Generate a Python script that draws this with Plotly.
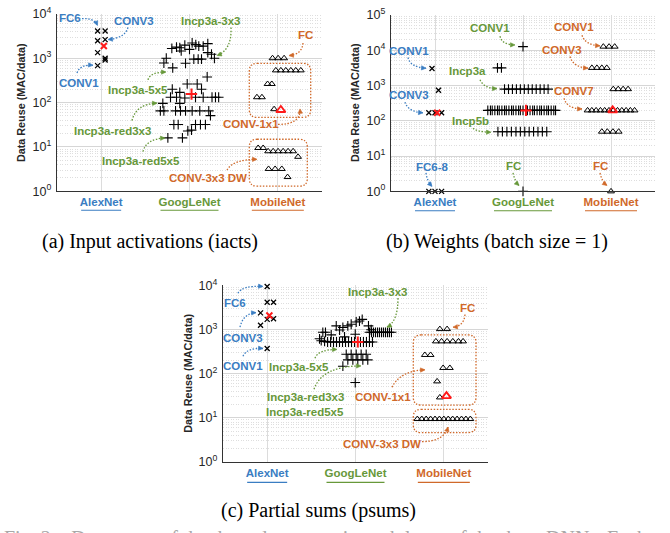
import math
import plotly.graph_objects as go

W, H = 670, 533
BLUE = "#3a7dc2"
GREEN = "#67983a"
ORANGE = "#d0692a"
SANS = "Liberation Sans, Arial, Helvetica, sans-serif"
SERIF = "Liberation Serif, Times New Roman, serif"

categories = ["AlexNet", "GoogLeNet", "MobileNet"]
cat_colors = [BLUE, GREEN, ORANGE]

# ---------------- (a) Input activations ----------------
alex_a_jit = [-0.04, -0.04, -0.04, -0.04, 0.045, 0.045, 0.045, 0.045]
alex_a_val = [4100, 2470, 1340, 680, 4100, 2620, 1000, 910]
alex_a_avg = ([0.03], [1880])

goog_a_jit = [-0.20, -0.147, -0.11, -0.094, -0.053, 0.0, 0.03, 0.071, 0.105, 0.155, 0.207,
              0.207, 0.249, 0.282, 0.049, 0.098, 0.136, -0.263, -0.29, -0.19, -0.045, 0.20,
              -0.026, 0.087, -0.195, 0.136, -0.11, -0.215, -0.147, -0.053, 0.068, 0.155,
              0.255, 0.294, 0.33, -0.302, -0.11, -0.33, -0.29, -0.158, -0.102, -0.045, 0.03,
              0.116, 0.218, 0.237, -0.177, -0.128, 0.068, 0.124, 0.18, -0.019, 0.023, -0.245, -0.08]
goog_a_val = [1660, 1780, 1720, 1460, 1970, 1580, 2210, 2030, 1870, 1870, 2130,
              1340, 1230, 1000, 953, 953, 953, 1000, 780, 606, 768, 379,
              263, 263, 200, 200, 170, 132, 132, 127, 132, 132,
              132, 132, 132, 96, 96, 65, 65, 65, 65, 65, 65,
              65, 65, 51, 32, 32, 32, 32, 32, 23, 24, 16, 16]
goog_a_avg = ([0.023], [156])

mob_a_jit = [-0.06, 0.003, 0.071, -0.023, 0.034, 0.09, 0.147, 0.203, 0.26, -0.116, -0.068,
             -0.237, -0.18, -0.042, -0.223, -0.166, -0.11, -0.053, 0.003, 0.06, 0.116, 0.173,
             0.229, -0.105, -0.031, 0.045, 0.11]
mob_a_val = [1000, 1000, 1000, 532, 532, 532, 532, 532, 532, 263, 263,
             132, 132, 71, 9.5, 9.5, 8, 8, 8, 8, 8, 8,
             6, 3.2, 3.2, 3.2, 2.1]
mob_a_avg = ([0.034], [68])

# ---------------- (b) Weights ----------------
alex_b_jit = [-0.034, 0.04, -0.07, 0.0, 0.075, -0.07, 0.0, 0.075]
alex_b_val = [3025, 729, 169, 169, 169, 1, 1, 1]
alex_b_avg = ([0.025], [169])

goog_b_jit = [0.0, -0.29, -0.245,
              -0.21, -0.165, -0.12, -0.075, -0.03, 0.015, 0.06, 0.105, 0.15, 0.195, 0.24, 0.285,
              -0.40, -0.37, -0.35, -0.32, -0.29, -0.27, -0.24, -0.21, -0.19, -0.16, -0.13, -0.11,
              -0.08, -0.05, -0.03, 0.0, 0.03, 0.05, 0.08, 0.11, 0.13, 0.16, 0.19, 0.21, 0.24,
              0.27, 0.29, 0.32, 0.35, 0.37,
              -0.285, -0.234, -0.183, -0.132, -0.08, -0.03, 0.02, 0.07, 0.12, 0.17, 0.22, 0.27,
              0.0]
goog_b_val = [12544, 3136, 3136,
              784, 784, 784, 784, 784, 784, 784, 784, 784, 784, 784, 784,
              196, 196, 196, 196, 196, 196, 196, 196, 196, 196, 196, 196,
              196, 196, 196, 196, 196, 196, 196, 196, 196, 196, 196, 196, 196,
              196, 196, 196, 196, 196,
              49, 49, 49, 49, 49, 49, 49, 49, 49, 49, 49, 49,
              1]
goog_b_avg = ([0.034], [196])

mob_b_jit = [-0.087, -0.022, 0.042,
             -0.217, -0.16, -0.104, -0.048,
             0.026, 0.082, 0.138, 0.194,
             -0.266, -0.218, -0.169, -0.12, -0.072, -0.023, 0.026, 0.074, 0.123, 0.172, 0.22, 0.268,
             -0.104, -0.042, 0.022, 0.087,
             0.0]
mob_b_val = [12544, 12544, 12544,
             3136, 3136, 3136, 3136,
             784, 784, 784, 784,
             196, 196, 196, 196, 196, 196, 196, 196, 196, 196, 196, 196,
             49, 49, 49, 49,
             1]
mob_b_avg = ([0.019], [196])

# ---------------- (c) Partial sums ----------------
alex_c_jit = [0.0, 0.0, 0.072, -0.075, 0.0, 0.072, -0.075, 0.0]
alex_c_val = [9500, 4170, 4170, 2390, 1700, 1760, 1256, 373]
alex_c_avg = ([0.025], [2080])

goog_c_jit = [-0.37, -0.34, -0.275, -0.218, -0.18, -0.143, -0.087, -0.049, 0.008, 0.045, 0.076,
              0.147, 0.177, -0.003, -0.124, -0.407,
              -0.388, -0.35, -0.316, -0.282, -0.249, -0.215, -0.181, -0.147, -0.113, -0.079,
              -0.045, -0.011, 0.056, 0.09, 0.124, 0.158, 0.192,
              0.158, 0.181, 0.203, 0.226, 0.249, 0.271, 0.294, 0.316, 0.339, 0.362, 0.384, 0.407,
              -0.105, -0.049, 0.008, 0.064, 0.121,
              -0.087, -0.03, 0.026, 0.083, 0.139,
              -0.143, -0.003]
goog_c_val = [867, 867, 757, 1212, 975, 1118, 1212, 1321, 1484, 1561, 1700,
              1212, 990, 785, 684, 618,
              560, 540, 523, 523, 523, 523, 523, 523, 523, 523,
              523, 523, 523, 523, 523, 523, 523,
              867, 867, 867, 867, 867, 867, 867, 867, 867, 867, 867, 867,
              275, 275, 275, 275, 275,
              206, 206, 206, 206, 206,
              148, 63]
goog_c_avg = ([0.026], [523])

mob_c_jit = [-0.045, 0.037, -0.09, -0.026, 0.037, 0.102, 0.166, 0.218, -0.215, -0.15,
             -0.008, 0.068, -0.076, -0.045,
             -0.30, -0.25, -0.20, -0.15, -0.10, -0.05, 0.0, 0.05, 0.10, 0.15, 0.20, 0.25, 0.30]
mob_c_val = [1026, 1026, 540, 540, 540, 540, 540, 540, 266, 266,
             135, 135, 67, 29,
             9.4, 9.4, 9.4, 9.4, 9.4, 9.4, 9.4, 9.4, 9.4, 9.4, 9.4, 9.4, 9.4]
mob_c_avg = ([0.03], [31])

captions = ["(a) Input activations (iacts)", "(b) Weights (batch size = 1)", "(c) Partial sums (psums)"]
y_title = "Data Reuse (MAC/data)"
fig_caption = "Fig. 2:   Data reuse of the three data types in each layer of the three DNNs. Each"

# ---------------- layout geometry (pixels) ----------------
panels = [
    dict(xdom=(57, 322), ydom=(5, 188), dec=4,
         groups=[(alex_a_jit, alex_a_val), (goog_a_jit, goog_a_val), (mob_a_jit, mob_a_val)],
         avgs=[alex_a_avg, goog_a_avg, mob_a_avg], uline=207.5, ytitle=(21, 97), cap=(150, 240)),
    dict(xdom=(391, 655), ydom=(6, 188), dec=5,
         groups=[(alex_b_jit, alex_b_val), (goog_b_jit, goog_b_val), (mob_b_jit, mob_b_val)],
         avgs=[alex_b_avg, goog_b_avg, mob_b_avg], uline=208, ytitle=(355, 97), cap=(497, 240)),
    dict(xdom=(223, 488), ydom=(285, 467), dec=4,
         groups=[(alex_c_jit, alex_c_val), (goog_c_jit, goog_c_val), (mob_c_jit, mob_c_val)],
         avgs=[alex_c_avg, goog_c_avg, mob_c_avg], uline=488, ytitle=(188, 376), cap=(318, 517)),
]

STY = [dict(symbol="x-thin", size=5, lw=1.3),
       dict(symbol="cross-thin", size=7, lw=1.1),
       dict(symbol="triangle-up-open", size=6, lw=1.0)]
RED = [dict(symbol="x-thin", size=6, lw=2.0),
       dict(symbol="cross-thin", size=8, lw=2.0),
       dict(symbol="triangle-up-open", size=8, lw=1.9)]

fig = go.Figure()
shapes = []
annos = []


def pp(x, y):
    return f"{x / W:.5f},{1 - y / H:.5f}"


def curve_arrow(x0, y0, cx, cy, x1, y1, color):
    shapes.append(dict(type="path", xref="paper", yref="paper", layer="above",
                       path=f"M{pp(x0, y0)} Q{pp(cx, cy)} {pp(x1, y1)}",
                       line=dict(color=color, width=1.3, dash="1.5px,1.6px")))
    dx, dy = x1 - cx, y1 - cy
    n = math.hypot(dx, dy) or 1.0
    ux, uy = dx / n, dy / n
    L, hw = 4.5, 2.2
    bx, by = x1 - ux * L, y1 - uy * L
    p1 = (bx - uy * hw, by + ux * hw)
    p2 = (bx + uy * hw, by - ux * hw)
    shapes.append(dict(type="path", xref="paper", yref="paper", layer="above",
                       path=f"M{pp(x1, y1)} L{pp(*p1)} L{pp(*p2)} Z",
                       fillcolor=color, line=dict(color=color, width=0.6)))


def round_box(x0, y0, x1, y1, color, r=8):
    path = (f"M{pp(x0 + r, y0)} L{pp(x1 - r, y0)} Q{pp(x1, y0)} {pp(x1, y0 + r)} "
            f"L{pp(x1, y1 - r)} Q{pp(x1, y1)} {pp(x1 - r, y1)} L{pp(x0 + r, y1)} "
            f"Q{pp(x0, y1)} {pp(x0, y1 - r)} L{pp(x0, y0 + r)} Q{pp(x0, y0)} {pp(x0 + r, y0)} Z")
    shapes.append(dict(type="path", xref="paper", yref="paper", layer="above", path=path,
                       line=dict(color=color, width=1.3, dash="1.5px,1.6px")))


def label(text, color, x, y, size=11.5):
    annos.append(dict(text=f"<b>{text}</b>", x=x / W, y=1 - y / H, xref="paper", yref="paper",
                      showarrow=False, xanchor="center", yanchor="middle",
                      font=dict(family=SANS, size=size, color=color)))


ul_half_px = [20, 29, 26]

for i, p in enumerate(panels):
    sfx = "" if i == 0 else str(i + 1)
    xname, yname = "x" + sfx, "y" + sfx
    for k in range(3):
        jit, vals = p["groups"][k]
        s = STY[k]
        fig.add_trace(go.Scatter(
            x=[k + 1 + j for j in jit], y=vals, mode="markers", xaxis=xname, yaxis=yname,
            marker=dict(symbol=s["symbol"], size=s["size"], color="black",
                        line=dict(width=s["lw"], color="black")),
            cliponaxis=False, showlegend=False, hoverinfo="skip"))
    for k in range(3):
        ajit, aval = p["avgs"][k]
        s = RED[k]
        fig.add_trace(go.Scatter(
            x=[k + 1 + j for j in ajit], y=aval, mode="markers", xaxis=xname, yaxis=yname,
            marker=dict(symbol=s["symbol"], size=s["size"], color="#ff1a1a",
                        line=dict(width=s["lw"], color="#ff1a1a")),
            cliponaxis=False, showlegend=False, hoverinfo="skip"))

    dec = p["dec"]
    major = [10 ** e for e in range(dec + 1)]
    minor = [m * 10 ** e for e in range(dec) for m in range(2, 10)]
    x0p, x1p = p["xdom"]
    ytop, ybot = p["ydom"]
    fig.layout["xaxis" + sfx] = dict(
        domain=[x0p / W, x1p / W], range=[0.5, 3.5], anchor=yname,
        tickmode="array", tickvals=[1, 2, 3],
        ticktext=[f"<b><span style='color:{c}'>{n}</span></b>" for n, c in zip(categories, cat_colors)],
        tickfont=dict(family=SANS, size=11.5), ticks="", ticklabelstandoff=0,
        showgrid=True, gridcolor="#dcdcdc", gridwidth=1.3, zeroline=False,
        showline=True, linecolor="#333333", linewidth=1.2, fixedrange=True)
    fig.layout["yaxis" + sfx] = dict(
        domain=[1 - ybot / H, 1 - ytop / H], type="log", range=[0, dec], anchor=xname,
        tickmode="array", tickvals=major, ticktext=[f"10<sup>{e}</sup>" for e in range(dec + 1)],
        tickfont=dict(family=SANS, size=12.5, color="#262626"), ticks="", ticklabelstandoff=2,
        showgrid=True, gridcolor="#d6d6d6", gridwidth=1, zeroline=False,
        minor=dict(tickmode="array", tickvals=minor, showgrid=True, gridcolor="#dedede",
                   griddash="1px,1.5px", gridwidth=1, ticks=""),
        showline=True, linecolor="#333333", linewidth=1.2, fixedrange=True)

    # underline of the category tick labels
    for k in range(3):
        cpx = x0p + (k + 0.5) / 3 * (x1p - x0p)
        shapes.append(dict(type="line", xref="paper", yref="paper",
                           x0=(cpx - ul_half_px[k]) / W, x1=(cpx + ul_half_px[k]) / W,
                           y0=1 - p["uline"] / H, y1=1 - p["uline"] / H,
                           line=dict(color=cat_colors[k], width=1.2)))

    tx, ty = p["ytitle"]
    annos.append(dict(text=f"<b>{y_title}</b>", x=tx / W, y=1 - ty / H, xref="paper", yref="paper",
                      showarrow=False, textangle=-90, xanchor="center", yanchor="middle",
                      font=dict(family=SANS, size=10.8, color="#262626")))
    cx, cy = p["cap"]
    annos.append(dict(text=captions[i], x=cx / W, y=1 - cy / H, xref="paper", yref="paper",
                      showarrow=False, xanchor="center", yanchor="middle",
                      font=dict(family=SERIF, size=20, color="black")))

# partially visible figure caption at the bottom edge (cut off in the reference too)
annos.append(dict(text=fig_caption, x=2 / W, y=1 - 531.5 / H, xref="paper", yref="paper",
                  showarrow=False, xanchor="left", yanchor="top",
                  font=dict(family=SERIF, size=20, color="#a8a8a8")))

# ---------------- callouts ----------------
# (a)
label("FC6", BLUE, 70, 9);            curve_arrow(82, 10, 94, 9, 97.5, 17, BLUE)
label("CONV3", BLUE, 134, 12);        curve_arrow(128, 19, 125, 30, 108, 31.5, BLUE)
label("CONV1", BLUE, 79, 76);         curve_arrow(77, 66, 80, 57, 93, 58, BLUE)
label("Incp3a-5x5", GREEN, 138, 83);  curve_arrow(148, 73, 150, 65, 166, 65, GREEN)
label("Incp3a-3x3", GREEN, 210, 12);  curve_arrow(231, 19, 232, 42, 217, 48, GREEN)
label("Incp3a-red3x3", GREEN, 112, 126); curve_arrow(132, 115, 136, 98, 157, 97, GREEN)
label("Incp3a-red5x5", GREEN, 141, 157); curve_arrow(143, 147, 146, 134, 165, 133, GREEN)
label("FC", ORANGE, 305, 27);         curve_arrow(303, 35, 302, 47, 289, 48, ORANGE)
label("CONV-1x1", ORANGE, 251, 119);  curve_arrow(278, 119, 301, 119, 300, 103, ORANGE)
label("CONV-3x3 DW", ORANGE, 208, 174); curve_arrow(227, 166, 233, 155, 257, 155, ORANGE)
round_box(249.3, 56, 310.7, 111.7, ORANGE)
round_box(249.3, 134.3, 307.3, 182.7, ORANGE)
# (b)
label("CONV1", BLUE, 409, 43);        curve_arrow(408, 50, 410, 60, 426, 61, BLUE)
label("CONV3", BLUE, 409, 89);        curve_arrow(405, 96, 408, 106, 423, 107, BLUE)
label("FC6-8", BLUE, 432, 163);       curve_arrow(426, 169, 427, 177, 432, 183, BLUE)
label("CONV1", GREEN, 490, 20);       curve_arrow(500, 28, 502, 37, 515, 37, GREEN)
label("Incp3a", GREEN, 467, 64);      curve_arrow(480, 73, 484, 82, 497, 82, GREEN)
label("Incp5b", GREEN, 470, 115);     curve_arrow(473, 123, 478, 127, 491, 127, GREEN)
label("FC", GREEN, 513, 162);         curve_arrow(513, 169, 515, 178, 519, 182, GREEN)
label("CONV1", ORANGE, 574, 19);      curve_arrow(582, 27, 585, 37, 600, 38, ORANGE)
label("CONV3", ORANGE, 562, 42);      curve_arrow(570, 49, 573, 60, 588, 61, ORANGE)
label("CONV7", ORANGE, 574, 85);      curve_arrow(564, 92, 567, 103, 582, 103, ORANGE)
label("FC", ORANGE, 600, 162);        curve_arrow(600, 169, 602, 178, 607, 182, ORANGE)
# (c)
label("FC6", BLUE, 235, 303);         curve_arrow(238, 293, 242, 285, 263, 286, BLUE)
label("CONV3", BLUE, 243, 339);       curve_arrow(240, 328, 243, 314, 256, 313, BLUE)
label("CONV1", BLUE, 243, 368);       curve_arrow(243, 358, 247, 349, 263, 350, BLUE)
label("Incp3a-5x5", GREEN, 299, 369); curve_arrow(315, 360, 318, 351, 337, 351, GREEN)
label("Incp3a-red3x3", GREEN, 305, 400)
label("Incp3a-red5x5", GREEN, 305, 415); curve_arrow(314, 392, 322, 368, 361, 368, GREEN)
label("Incp3a-3x3", GREEN, 377, 292); curve_arrow(398, 298, 398, 322, 387, 328, GREEN)
label("FC", ORANGE, 467, 308);        curve_arrow(465, 315, 464, 327, 453, 328, ORANGE)
label("CONV-1x1", ORANGE, 383, 400);  curve_arrow(392, 390, 400, 373, 425, 372, ORANGE)
label("CONV-3x3 DW", ORANGE, 382, 448); curve_arrow(422, 446, 444, 446, 448, 431, ORANGE)
round_box(413.3, 336, 476, 408.3, ORANGE)
round_box(413.3, 412.7, 476, 436.7, ORANGE)

fig.update_layout(
    width=W, height=H, autosize=False,
    margin=dict(l=0, r=0, t=0, b=0),
    paper_bgcolor="white", plot_bgcolor="white",
    shapes=shapes, annotations=annos, showlegend=False,
)

fig.write_html("out.html", config={"displayModeBar": False},
               post_script="document.body.style.margin='0';")
